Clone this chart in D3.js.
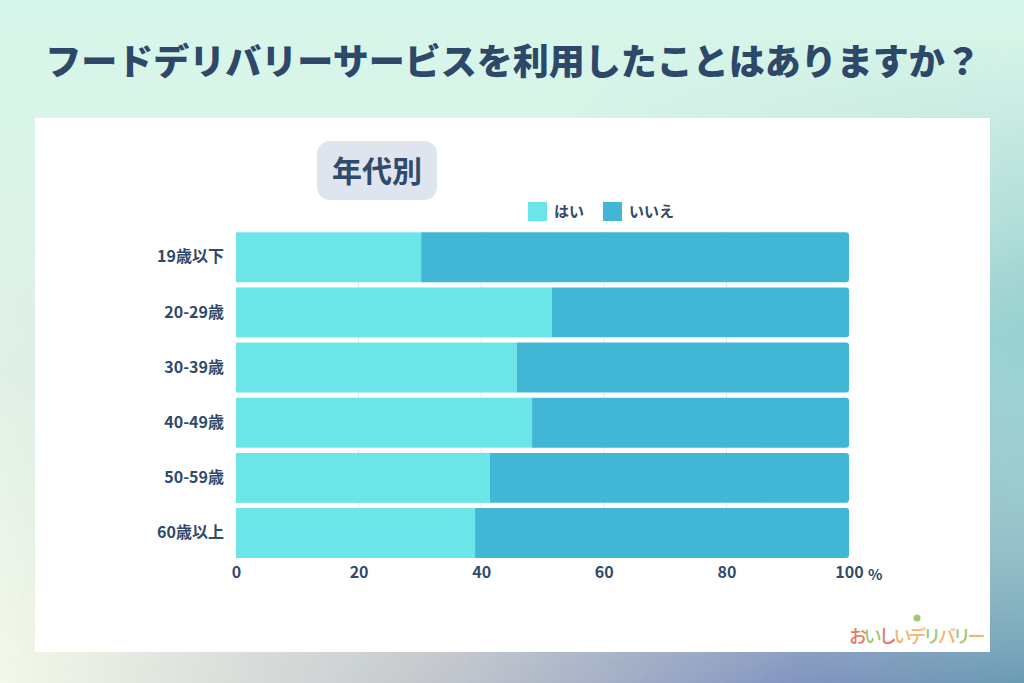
<!DOCTYPE html>
<html><head><meta charset="utf-8">
<script src="https://cdn.jsdelivr.net/npm/d3@7"></script>
<style>
html,body{margin:0;padding:0;}
body{width:1024px;height:683px;overflow:hidden;position:relative;
background:linear-gradient(to bottom,#d6f6ea 0%,#e1f0e6 55%,#f4f9ea 100%);}
#ov1{position:absolute;left:0;top:0;width:1024px;height:683px;
background:linear-gradient(to right,rgba(230,240,228,0) 0%,rgba(185,190,200,0.9) 45%,#8395c0 78%,#6b9bb4 100%);
-webkit-mask-image:linear-gradient(to bottom,rgba(0,0,0,0) 35%,rgba(0,0,0,1) 100%);mask-image:linear-gradient(to bottom,rgba(0,0,0,0) 35%,rgba(0,0,0,1) 100%);}
#ov2{position:absolute;left:0;top:0;width:1024px;height:683px;
background:linear-gradient(to bottom,rgba(160,215,210,0) 5%,rgba(150,208,208,1) 50%,rgba(107,155,180,0.0) 100%);
-webkit-mask-image:linear-gradient(to right,rgba(0,0,0,0) 55%,rgba(0,0,0,1) 100%);mask-image:linear-gradient(to right,rgba(0,0,0,0) 55%,rgba(0,0,0,1) 100%);}
svg{position:absolute;left:0;top:0;}
</style></head>
<body><div id="ov1"></div><div id="ov2"></div>
<script>
const title = "フードデリバリーサービスを利用したことはありますか？";
const subtitle = "年代別";
const categories = ["19歳以下","20-29歳","30-39歳","40-49歳","50-59歳","60歳以上"];
const seriesNames = ["はい","いいえ"];
const yesValues = [30.2, 51.5, 45.8, 48.3, 41.4, 39.0];
const noValues = yesValues.map(v => 100 - v);
const xTicks = [0,20,40,60,80,100];
const colors = ["#6be5e8","#42b7d5"];
const logoChars = ["お","い","し","い","デ","リ","バ","リ","ー"];
const logoColors = ["#e9785e","#9ccb70","#e9785e","#f0b36e","#f0b36e","#9ccb70","#f0b36e","#9ccb70","#f0b36e"];

const W=1024,H=683;
const svg=d3.select("body").append("svg").attr("width",W).attr("height",H);
const font="'Noto Sans CJK JP','Noto Sans',sans-serif";
const navy="#2f4a6b";

svg.append("text").attr("x",513).attr("y",75).attr("text-anchor","middle")
 .attr("font-family",font).attr("font-weight",900).attr("font-size",36)
 .attr("fill","#2d4869").text(title);

svg.append("rect").attr("x",35).attr("y",118).attr("width",955).attr("height",534).attr("fill","#fff");

svg.append("rect").attr("x",317).attr("y",141).attr("width",120).attr("height",59).attr("rx",13).attr("fill","#dfe5ee");
svg.append("text").attr("x",377).attr("y",182).attr("text-anchor","middle")
 .attr("font-family",font).attr("font-weight",700).attr("font-size",30).attr("fill",navy).text(subtitle);

// legend
const legX=[528,603];
seriesNames.forEach((n,i)=>{
  svg.append("rect").attr("x",legX[i]).attr("y",202).attr("width",19).attr("height",19).attr("fill",colors[i]);
  svg.append("text").attr("x",legX[i]+26).attr("y",217).attr("font-family",font).attr("font-weight",700)
   .attr("font-size",15).attr("fill",navy).text(n);
});

const x=d3.scaleLinear().domain([0,100]).range([236,849]);
const y=d3.scaleBand().domain(categories).range([232.3,558]).paddingInner(0.095).paddingOuter(0);

// gridlines
svg.append("g").selectAll("line").data(xTicks.slice(1,5)).join("line")
 .attr("x1",d=>x(d)).attr("x2",d=>x(d)).attr("y1",232).attr("y2",558)
 .attr("stroke","#e4e8ec").attr("stroke-width",1);

const bw=y.bandwidth();
categories.forEach((c,i)=>{
  const y0=y(c);
  svg.append("rect").attr("x",x(0)).attr("y",y0).attr("width",x(yesValues[i])-x(0)).attr("height",bw).attr("fill",colors[0]);
  const x0=x(yesValues[i]), x1=x(yesValues[i]+noValues[i]), r=3;
  const p=d3.path();
  p.moveTo(x0,y0); p.lineTo(x1-r,y0); p.quadraticCurveTo(x1,y0,x1,y0+r);
  p.lineTo(x1,y0+bw-r); p.quadraticCurveTo(x1,y0+bw,x1-r,y0+bw); p.lineTo(x0,y0+bw); p.closePath();
  svg.append("path").attr("d",p.toString()).attr("fill",colors[1]);
});

// y axis
const ya=svg.append("g").attr("transform","translate(224,0)").call(d3.axisLeft(y).tickSize(0).tickPadding(0));
ya.select(".domain").remove();
ya.selectAll("text").attr("font-family",font).attr("font-weight",700).attr("font-size",16).attr("fill",navy);

// x axis
const xa=svg.append("g").attr("transform","translate(0,567)").call(d3.axisBottom(x).tickValues(xTicks).tickSize(0).tickPadding(0));
xa.select(".domain").remove();
xa.selectAll("text").attr("font-family",font).attr("font-weight",700).attr("font-size",16).attr("fill",navy).attr("dy","0.71em").attr("y",0);
svg.append("text").attr("x",868).attr("y",580).attr("font-family",font).attr("font-weight",700)
 .attr("font-size",15).attr("fill",navy).text("%");

// logo
const lt=svg.append("text").attr("x",849).attr("y",643).attr("font-family","'Noto Sans CJK JP',sans-serif")
 .attr("font-weight",500).attr("font-size",18).attr("letter-spacing",-3.2);
logoChars.forEach((ch,i)=>lt.append("tspan").attr("fill",logoColors[i]).text(ch));
svg.append("circle").attr("cx",917).attr("cy",618).attr("r",3.5).attr("fill","#9ccb70");
</script></body></html>
